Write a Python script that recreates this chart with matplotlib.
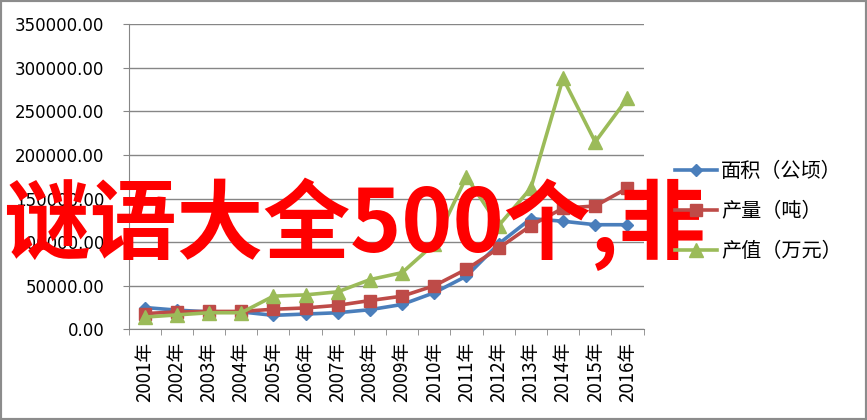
import numpy as np
import matplotlib.pyplot as plt
from matplotlib.patches import Rectangle
from matplotlib.ticker import FixedLocator

years = ['2001年', '2002年', '2003年', '2004年', '2005年', '2006年', '2007年', '2008年',
         '2009年', '2010年', '2011年', '2012年', '2013年', '2014年', '2015年', '2016年']
area = [25000, 22000, 20000, 20000, 16000, 17500, 19000, 22500,
        28500, 42000, 61000, 98000, 127000, 124000, 120000, 120000]
output = [18000, 20000, 20500, 20500, 23000, 24500, 27500, 33000,
          38000, 50000, 69000, 93000, 119000, 139000, 141500, 162000]
value = [14000, 16500, 19000, 19000, 38000, 39500, 43000, 57000,
         65000, 98000, 175000, 119000, 162000, 288000, 215000, 265000]
names = ['面积（公顷）', '产量（吨）', '产值（万元）']

cjk = ['Noto Sans CJK SC', 'DejaVu Sans']
grey = '#868686'

fig = plt.figure(figsize=(8.67, 4.2), dpi=100)
ax = fig.add_axes([128.5/867, 1-329.3/420, 515/867, 305/420])

x = np.arange(len(years))
ax.plot(x, area, '-D', color='#4A7EBB', lw=2.6, ms=6, label=names[0], zorder=3)
ax.plot(x, output, '-s', color='#BE4B48', lw=2.6, ms=8.5, label=names[1], zorder=4)
ax.plot(x, value, '-^', color='#9BBB59', lw=2.6, ms=10, label=names[2], zorder=5)

ax.set_xlim(-0.5, len(years) - 0.5)
ax.set_ylim(0, 350000)
ax.set_yticks(np.arange(0, 350001, 50000))
ax.set_yticklabels([f'{v:.2f}' for v in np.arange(0, 350001, 50000)], fontsize=12)
ax.yaxis.grid(True, color=grey, lw=1)
ax.set_axisbelow(True)

ax.set_xticks(x)
ax.set_xticklabels(years, rotation=90, fontsize=13.5, family=cjk)
ax.xaxis.set_minor_locator(FixedLocator(np.arange(-0.5, len(years), 1)))
ax.tick_params(axis='x', which='major', length=0, pad=9)
ax.tick_params(axis='x', which='minor', length=4.5, color=grey, direction='out')
ax.tick_params(axis='y', length=4.5, color=grey, direction='out', pad=13)

for s in ['top', 'right']:
    ax.spines[s].set_visible(False)
for s in ['left', 'bottom']:
    ax.spines[s].set_color(grey)

fig.text(3/867, 1-224/420, '谜语大全500个,非', fontsize=62.5, color='#FF0000',
         fontweight='bold', family=cjk, ha='left', va='center', zorder=10)

leg = fig.legend(loc='upper left', bbox_to_anchor=(675/867, 1-161/420), frameon=False,
                 prop={'family': cjk, 'size': 14.5}, handlelength=2.1, handletextpad=0.2,
                 labelspacing=0.95, borderpad=0, borderaxespad=0)
leg.set_zorder(20)

fig.patches.append(Rectangle((0, 0), 1, 1, transform=fig.transFigure, fill=False,
                             edgecolor='#8c8c8c', lw=3))

fig.savefig('out.png', dpi=100)
